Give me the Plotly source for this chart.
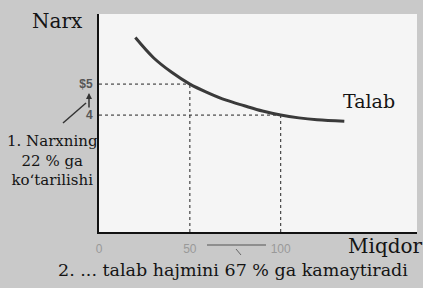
import plotly.graph_objects as go

# Demand curve (quantity, price)
curve_q = [20, 30, 40, 50, 60, 70, 80, 90, 100, 110, 120, 135]
curve_p = [6.5, 5.85, 5.38, 5.0, 4.72, 4.48, 4.3, 4.13, 4.0, 3.91, 3.85, 3.8]

# Two points marked by dotted guides
mark_q = [50, 100]
mark_p = [5, 4]

x_ticks = [0, 50, 100]
x_ticktext = ["0", "50", "100"]
y_ticks = [4, 5]
y_ticktext = ["4", "$5"]

W, H = 423, 288
L, R, T, B = 99, 6, 14, 56
PW, PH = W - L - R, H - T - B

def px(x):
    return (x - L) / PW

def py(y):
    return (H - B - y) / PH

XR = [0, 175]
YR = [0.23, 7.26]

fig = go.Figure()

# dotted guide lines
for q, p in zip(mark_q, mark_p):
    fig.add_trace(go.Scatter(x=[0, q], y=[p, p], mode="lines",
                             line=dict(color="#222", width=1, dash="dot"),
                             hoverinfo="skip", showlegend=False))
    fig.add_trace(go.Scatter(x=[q, q], y=[YR[0], p], mode="lines",
                             line=dict(color="#222", width=1, dash="dot"),
                             hoverinfo="skip", showlegend=False))

fig.add_trace(go.Scatter(x=curve_q, y=curve_p, mode="lines",
                         line=dict(color="#3a3a3a", width=3, shape="spline"),
                         showlegend=False))

serif = "DejaVu Serif"
ann = []
def text(t, x, y, size, **kw):
    ann.append(dict(text=t, x=px(x), y=py(y), xref="paper", yref="paper",
                    showarrow=False, font=dict(family=serif, size=size, color="#141414"),
                    xanchor="center", yanchor="middle", **kw))

text("Narx", 57, 21, 20)
text("Talab", 369, 101, 19)
text("Miqdor", 385, 246, 20)
text("1. Narxning<br>22 % ga<br>ko‘tarilishi", 52, 160, 15)
text("2. ... talab hajmini 67 % ga kamaytiradi", 233, 270, 17.5)

# up arrow between 4 and $5
ann.append(dict(x=px(89), y=py(93), xref="paper", yref="paper",
                ax=0, ay=16, axref="pixel", ayref="pixel",
                text="", showarrow=True, arrowhead=2, arrowsize=0.8,
                arrowwidth=1.5, arrowcolor="#333", standoff=0))

shapes = []
def seg(x0, y0, x1, y1, width=1.5, color="#333"):
    shapes.append(dict(type="line", xref="paper", yref="paper",
                       x0=px(x0), y0=py(y0), x1=px(x1), y1=py(y1),
                       line=dict(color=color, width=width)))

seg(63, 123, 86, 103)                      # diagonal pointer
seg(207, 245, 266, 245, width=1.2, color="#555")
seg(236, 249, 241, 255, width=1, color="#666")

fig.update_layout(
    width=W, height=H,
    margin=dict(l=L, r=R, t=T, b=B),
    paper_bgcolor="#c9c9c9",
    plot_bgcolor="#f5f5f5",
    annotations=ann,
    shapes=shapes,
    xaxis=dict(range=XR, tickvals=x_ticks, ticktext=x_ticktext, showgrid=False,
               zeroline=False, showline=True, linecolor="#111", linewidth=2,
               ticks="", tickfont=dict(family="Liberation Sans", size=12, color="#999"),
               ticklabelstandoff=5),
    yaxis=dict(range=YR, tickvals=y_ticks, ticktext=y_ticktext, showgrid=False,
               zeroline=False, showline=True, linecolor="#111", linewidth=2,
               ticks="", tickfont=dict(family="Liberation Sans", size=12, color="#555",
                                       weight="bold"),
               ticklabelstandoff=2),
)

fig.write_html("out.html", post_script="document.body.style.margin='0';",
               config={"displayModeBar": False})
